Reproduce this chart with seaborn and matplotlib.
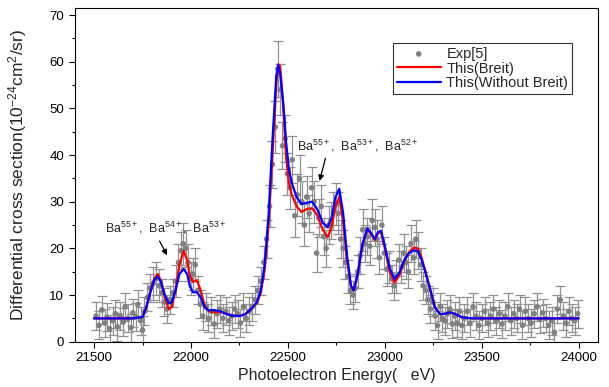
import seaborn as sns
import matplotlib
matplotlib.use('Agg')
import matplotlib.pyplot as plt
from matplotlib.ticker import MultipleLocator
import pandas as pd

exp_energy = [21510, 21525, 21540, 21555, 21565, 21580, 21595, 21610, 21620, 21635,
              21650, 21660, 21675, 21690, 21700, 21715, 21725, 21740, 21750, 21760,
              21775, 21790, 21805, 21820, 21835, 21850, 21862, 21875, 21890, 21905,
              21920, 21935, 21948, 21960, 21972, 21985, 21998, 22010, 22022, 22035,
              22048, 22060, 22075, 22090, 22105, 22120, 22135, 22150, 22165, 22180,
              22195, 22210, 22225, 22240, 22255, 22270, 22285, 22300, 22315, 22330,
              22345, 22360, 22375, 22390, 22405, 22420, 22435, 22448, 22460, 22472,
              22485, 22497, 22510, 22522, 22535, 22548, 22560, 22572, 22585, 22597,
              22610, 22622, 22635, 22648, 22660, 22672, 22685, 22697, 22710, 22722,
              22735, 22748, 22760, 22772, 22785, 22797, 22810, 22822, 22835, 22848,
              22860, 22872, 22885, 22897, 22910, 22922, 22935, 22948, 22960, 22972,
              22985, 22997, 23010, 23022, 23035, 23048, 23060, 23072, 23085, 23097,
              23110, 23122, 23135, 23148, 23160, 23172, 23185, 23197, 23210, 23222,
              23235, 23248, 23260, 23272, 23285, 23297, 23310, 23322, 23335, 23348,
              23360, 23372, 23385, 23397, 23410, 23425, 23440, 23455, 23470, 23485,
              23500, 23515, 23530, 23545, 23560, 23575, 23590, 23605, 23620, 23635,
              23650, 23665, 23680, 23695, 23710, 23725, 23740, 23755, 23770, 23785,
              23800, 23815, 23830, 23845, 23860, 23875, 23890, 23905, 23920, 23935,
              23950, 23965, 23980, 23995]
exp_value = [5.5, 3.5, 6.8, 4.0, 5.2, 2.8, 4.5, 6.0, 3.2, 5.5,
             4.2, 7.5, 5.0, 3.0, 6.2, 5.3, 8.0, 4.5, 2.5, 6.5,
             9.5, 11.5, 12.5, 13.5, 12.0, 10.5, 8.5, 7.0, 9.0, 10.5,
             13.0, 17.0, 19.5, 21.0, 20.0, 17.0, 13.5, 14.5, 16.5, 11.0,
             8.0, 5.5, 7.5, 5.0, 6.5, 3.8, 6.0, 7.0, 5.0, 6.5,
             4.5, 5.5, 7.0, 6.0, 4.0, 7.5, 5.0, 6.5, 7.5, 9.0,
             11.0, 13.0, 17.0, 22.0, 29.0, 38.0, 46.0, 58.5, 54.0, 42.0,
             43.5, 36.0, 33.0, 39.0, 27.0, 31.5, 35.0, 30.0, 25.0, 31.0,
             27.5, 33.0, 30.0, 19.0, 26.5, 29.0, 22.5, 20.0, 25.0, 26.0,
             28.0, 29.5, 27.5, 22.0, 20.0, 17.0, 14.0, 11.0, 10.0, 11.5,
             15.0, 18.5, 24.0, 21.0, 22.5, 20.5, 26.0, 24.5, 22.0, 18.0,
             25.0, 19.0, 15.5, 16.0, 13.5, 12.0, 14.0, 17.5, 16.0, 19.0,
             17.0, 15.0, 21.0, 18.0, 22.0, 19.5, 16.5, 12.0, 11.0, 9.0,
             7.0, 8.5, 5.5, 3.5, 7.5, 5.0, 4.5, 6.0, 7.0, 3.8,
             5.5, 4.0, 6.5, 3.5, 5.0, 6.5, 4.0, 7.5, 5.5, 3.5,
             5.0, 6.5, 4.0, 5.5, 7.0, 4.5, 6.0, 3.8, 5.5, 7.5,
             4.5, 6.0, 5.0, 7.0, 3.5, 6.5, 5.0, 4.0, 6.0, 7.5,
             4.8, 6.2, 5.0, 3.5, 4.5, 2.0, 7.0, 9.0, 5.5, 4.0,
             6.5, 5.0, 4.5, 6.0]
exp_error = [3, 3, 3, 3, 3, 3, 3, 3, 3, 3,
             3, 3, 3, 3, 3, 3, 3, 3, 3, 3,
             3, 3, 3.5, 3.5, 3.5, 3, 3, 3, 3, 3,
             3.5, 4, 4, 4.5, 4, 4, 3.5, 3.5, 3.5, 3,
             3, 3, 3, 3, 3, 3, 3, 3, 3, 3,
             3, 3, 3, 3, 3, 3, 3, 3, 3, 3,
             3, 3, 3.5, 4, 4.5, 5, 5.5, 6, 5.5, 5,
             5, 4.5, 4.5, 5, 4.5, 4.5, 5, 4.5, 4.5, 4.5,
             4, 4.5, 4.5, 4, 4, 4.5, 4, 4, 4, 4,
             4, 4.5, 4.5, 4, 4, 3.5, 3.5, 3, 3, 3,
             3.5, 4, 4.5, 4, 4, 4, 4.5, 4, 4, 3.5,
             4, 3.5, 3.5, 3.5, 3, 3, 3.5, 3.5, 3.5, 4,
             3.5, 3.5, 4, 3.5, 4, 4, 3.5, 3, 3, 3,
             3, 3, 3, 3, 3, 3, 3, 3, 3, 3,
             3, 3, 3, 3, 3, 3, 3, 3, 3, 3,
             3, 3, 3, 3, 3, 3, 3, 3, 3, 3,
             3, 3, 3, 3, 3, 3, 3, 3, 3, 3,
             3, 3, 3, 3, 3, 3, 3, 3, 3, 3,
             3, 3, 3, 3]

# theory curves
theory_energy = [21500, 21700, 21750, 21770, 21790, 21810, 21828, 21845, 21865, 21885,
                 21900, 21920, 21940, 21962, 21980, 21995, 22010, 22030, 22050, 22070,
                 22090, 22120, 22150, 22180, 22210, 22250, 22280, 22310, 22340, 22360,
                 22380, 22400, 22420, 22440, 22450, 22460, 22475, 22490, 22505, 22520,
                 22545, 22570, 22600, 22625, 22650, 22680, 22705, 22725, 22745, 22765,
                 22785, 22805, 22825, 22840, 22860, 22885, 22910, 22930, 22948, 22965,
                 22980, 23000, 23025, 23050, 23075, 23100, 23125, 23150, 23170, 23190,
                 23210, 23232, 23258, 23285, 23310, 23335, 23360, 23400, 23450, 24000]
breit = [5.0, 5.0, 5.3, 7.5, 10.8, 13.5, 14.5, 13.0, 9.5, 7.0,
         7.4, 11.0, 16.5, 19.5, 17.5, 14.0, 12.8, 13.2, 11.0, 7.8,
         6.6, 6.3, 6.4, 6.0, 5.6, 5.5, 5.9, 7.0, 8.3, 10.5,
         15.5, 25.0, 40.0, 55.0, 59.5, 59.0, 51.0, 40.0, 34.0, 31.5,
         29.0, 27.8, 28.5, 28.6, 27.2, 24.0, 22.4, 24.5, 29.0, 31.0,
         25.5, 17.5, 12.0, 11.0, 14.5, 21.0, 24.0, 23.0, 21.8, 23.3,
         23.5, 20.0, 15.0, 12.7, 14.2, 17.2, 19.2, 20.2, 20.0, 18.0,
         15.0, 11.5, 7.4, 5.9, 6.0, 6.3, 6.0, 5.2, 5.0, 5.0]
no_breit = [5.0, 5.0, 5.3, 7.5, 10.6, 13.2, 14.0, 12.8, 10.0, 8.2,
            8.4, 11.0, 14.5, 15.6, 14.5, 11.8, 10.6, 10.6, 9.5, 7.4,
            6.7, 6.8, 6.5, 6.0, 5.6, 5.5, 5.9, 7.0, 8.5, 11.0,
            16.5, 27.0, 43.0, 57.0, 59.3, 57.5, 51.5, 43.0, 37.0, 34.0,
            31.0, 29.5, 29.8, 30.0, 28.5, 25.5, 24.5, 26.5, 31.0, 32.8,
            27.5, 18.5, 12.0, 11.0, 14.5, 21.0, 24.3, 23.2, 22.0, 23.5,
            23.8, 20.5, 15.8, 13.4, 14.8, 17.5, 19.0, 19.6, 19.4, 17.5,
            14.8, 11.5, 7.4, 5.9, 6.0, 6.3, 6.0, 5.2, 5.0, 5.0]

exp_df = pd.DataFrame({'E': exp_energy, 'sigma': exp_value, 'err': exp_error})
th_df = pd.DataFrame({'E': theory_energy, 'Breit': breit, 'NoBreit': no_breit})

sns.set_style('ticks')
plt.rcParams['font.family'] = ['Liberation Sans', 'DejaVu Sans']
plt.rcParams['mathtext.fontset'] = 'custom'
plt.rcParams['mathtext.rm'] = 'Liberation Sans'
plt.rcParams['mathtext.it'] = 'Liberation Sans'

fig = plt.figure(figsize=(6.09, 3.87), dpi=100)
ax = fig.add_axes([0.1227, 0.117, 0.8593, 0.862])

ax.errorbar(exp_df['E'], exp_df['sigma'], yerr=exp_df['err'], fmt='none',
            ecolor='#929292', elinewidth=0.9, capsize=3.5, capthick=0.9, zorder=1)
sns.scatterplot(data=exp_df, x='E', y='sigma', color='#808080', s=16,
                edgecolor='none', ax=ax, zorder=2, label='Exp[5]')
sns.lineplot(data=th_df, x='E', y='Breit', color='#ff0000', lw=1.6,
             sort=False, ax=ax, zorder=3, label='This(Breit)')
sns.lineplot(data=th_df, x='E', y='NoBreit', color='#0000ff', lw=1.6,
             sort=False, ax=ax, zorder=4, label='This(Without Breit)')

ax.set_xlim(21400, 24100)
ax.set_ylim(0, 71.5)
ax.xaxis.set_major_locator(MultipleLocator(500))
ax.xaxis.set_minor_locator(MultipleLocator(250))
ax.yaxis.set_major_locator(MultipleLocator(10))
ax.yaxis.set_minor_locator(MultipleLocator(5))
ax.tick_params(which='both', direction='out', labelsize=9.5, colors='black')
ax.tick_params(which='major', length=4, width=0.8)
ax.tick_params(which='minor', length=2.5, width=0.8)
for s in ax.spines.values():
    s.set_linewidth(0.8)
    s.set_color('black')

ax.set_xlabel('Photoelectron Energy(   eV)', fontsize=11.5)
ax.set_ylabel(r'Differential cross section(10$^{-24}$cm$^{2}$/sr)', fontsize=12.5)
ax.xaxis.set_label_coords(0.5, -0.08)
ax.yaxis.set_label_coords(-0.088, 0.5)

ax.text(21555, 23.4, r'Ba$^{55+}$,  Ba$^{54+}$,  Ba$^{53+}$', fontsize=9)
ax.annotate('', xy=(21883, 18.0), xytext=(21831, 22.1),
            arrowprops=dict(arrowstyle='-|>', color='black', lw=0.9, mutation_scale=8))
ax.text(22546, 41.0, r'Ba$^{55+}$,  Ba$^{53+}$,  Ba$^{52+}$', fontsize=9)
ax.annotate('', xy=(22660, 33.9), xytext=(22697, 39.9),
            arrowprops=dict(arrowstyle='-|>', color='black', lw=0.9, mutation_scale=8))

leg = ax.legend(loc='upper right', bbox_to_anchor=(0.95, 0.895), fontsize=10.5,
                frameon=True, fancybox=False, borderpad=0.25, labelspacing=0.05,
                handlelength=3.0, handletextpad=0.4, borderaxespad=0)
leg.get_frame().set_edgecolor('black')
leg.get_frame().set_linewidth(0.8)

fig.savefig('out.png', dpi=100)
